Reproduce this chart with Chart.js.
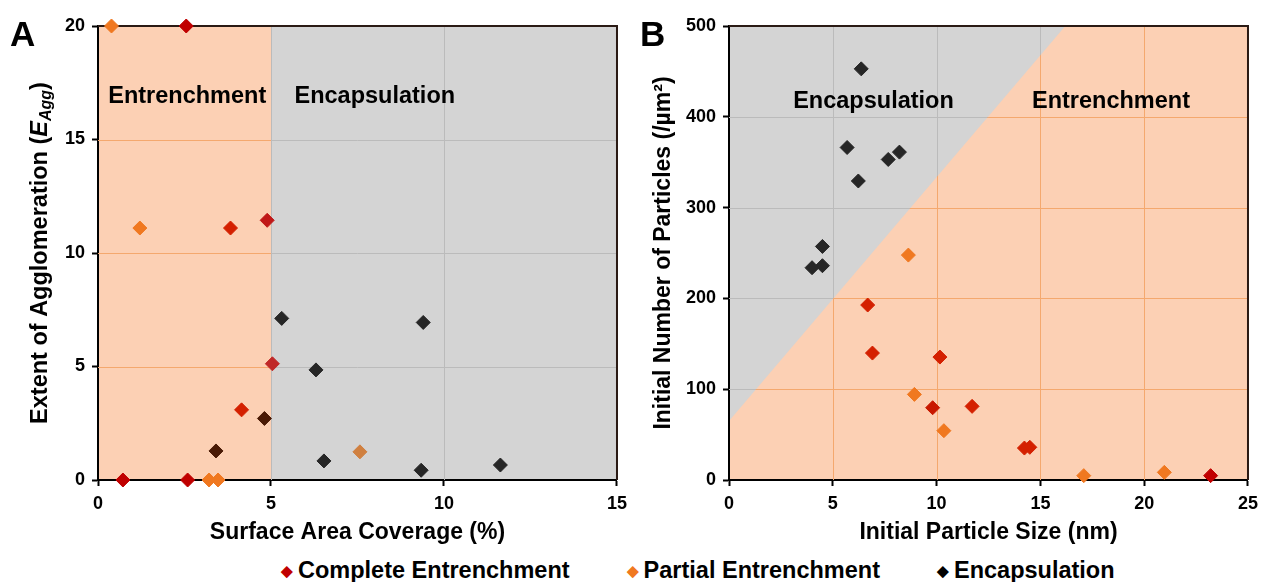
<!DOCTYPE html>
<html>
<head>
<meta charset="utf-8">
<script src="https://cdn.jsdelivr.net/npm/chart.js@4/dist/chart.umd.min.js"></script>
<style>
  body { margin: 0; background: #fff; width: 1265px; height: 582px; position: relative; overflow: hidden;
         font-family: 'Liberation Sans', Arial, sans-serif; }
  canvas { position: absolute; top: 0; }
  #chartA { left: 0; }
  #chartB { left: 634px; }
  .panel { position: absolute; top: 16px; font: bold 35px 'Liberation Sans', Arial, sans-serif; line-height: 1; }
  #legend { position: absolute; left: 281px; top: 559px; display: flex; gap: 57px;
            font: bold 23.5px 'Liberation Sans', Arial, sans-serif; line-height: 1; white-space: nowrap; }
  #legend .mk { font-size: 15px; margin-right: 5px; position: relative; top: -2px; }
</style>
</head>
<body>
<canvas id="chartA" width="634" height="550"></canvas>
<canvas id="chartB" width="631" height="550"></canvas>
<div class="panel" style="left:10px">A</div>
<div class="panel" style="left:640px">B</div>
<div id="legend">
  <span><span class="mk" style="color:#C00000">&#9670;</span>Complete Entrenchment</span>
  <span><span class="mk" style="color:#F07820">&#9670;</span>Partial Entrenchment</span>
  <span><span class="mk" style="color:#000">&#9670;</span>Encapsulation</span>
</div>
<script>
// --- panel A: surface area coverage (%) vs extent of agglomeration
const aCompleteX = [2.55, 3.83, 4.89, 5.04, 4.15, 0.72, 2.59];
const aCompleteY = [20, 11.1, 11.44, 5.12, 3.09, 0, 0];
const aPartialX = [0.39, 1.21, 3.21, 3.47, 7.57];
const aPartialY = [20, 11.1, 0, 0, 1.24];
const aEncapX = [5.31, 9.40, 6.30, 4.81, 3.41, 6.53, 9.34, 11.63];
const aEncapY = [7.12, 6.94, 4.85, 2.71, 1.28, 0.84, 0.43, 0.66];
const aBoundaryX = 5;

// --- panel B: initial particle size (nm) vs initial number of particles
const bCompleteX = [6.68, 6.91, 10.16, 9.81, 11.71, 14.23, 14.49, 23.2];
const bCompleteY = [192.7, 139.8, 135.4, 79.6, 81.1, 35.2, 36, 4.8];
const bPartialX = [8.64, 8.93, 10.35, 17.09, 20.97];
const bPartialY = [247.7, 94.3, 54.3, 4.8, 8.4];
const bEncapX = [6.37, 5.69, 8.21, 7.67, 6.23, 4.50, 4.50, 4.0];
const bEncapY = [452.8, 366.2, 361.1, 353, 329.3, 257.2, 236, 233.8];
const bBoundaryX = [0, 16.2];
const bBoundaryY = [65, 500];

const seriesNames = ["Complete Entrenchment", "Partial Entrenchment", "Encapsulation"];

// colours (points are not all the same shade in the original)
const aCompleteCol = ["#C00000", "#D42000", "#C01818", "#C02828", "#D42000", "#C00000", "#C00000"];
const aPartialCol = ["#F07820", "#F07820", "#F07820", "#F07820", "#D08040"];
const aEncapCol = ["#262626", "#262626", "#262626", "#4A1A05", "#4A1A05", "#262626", "#262626", "#262626"];
const bCompleteCol = ["#D42000", "#D42000", "#D42000", "#C81800", "#D42000", "#D42000", "#D42000", "#C00000"];
const PEACH = "#FCD0B4";
const GREY = "#D4D4D4";
const FONT = "'Liberation Sans', Arial, sans-serif";

Chart.defaults.font.family = FONT;
Chart.defaults.font.weight = "bold";
Chart.defaults.color = "#000";

function toPoints(xs, ys) {
  return xs.map((v, i) => ({ x: v, y: ys[i] }));
}

function makeSet(label, xs, ys, col) {
  return {
    label: label,
    data: toPoints(xs, ys),
    pointStyle: "rectRot",
    pointRadius: 7,
    pointHoverRadius: 7,
    backgroundColor: col,
    borderColor: col,
    borderWidth: 1,
    clip: false,
  };
}

function polyPath(ctx, poly, x, y) {
  ctx.beginPath();
  poly.forEach((p, i) => {
    const px = x.getPixelForValue(p[0]), py = y.getPixelForValue(p[1]);
    if (i === 0) ctx.moveTo(px, py); else ctx.lineTo(px, py);
  });
  ctx.closePath();
}

function gridPath(ctx, a, x, y) {
  ctx.beginPath();
  x.ticks.forEach(t => {
    if (t.value <= x.min || t.value >= x.max) return;
    const px = Math.round(x.getPixelForValue(t.value)) + 0.5;
    ctx.moveTo(px, a.top); ctx.lineTo(px, a.bottom);
  });
  y.ticks.forEach(t => {
    if (t.value <= y.min || t.value >= y.max) return;
    const py = Math.round(y.getPixelForValue(t.value)) + 0.5;
    ctx.moveTo(a.left, py); ctx.lineTo(a.right, py);
  });
}

// backgrounds, grid (grey / orange inside the peach area), frame and region labels
const regionPlugin = {
  id: "regions",
  beforeDraw(chart, args, opts) {
    const { ctx, chartArea: a, scales: { x, y } } = chart;
    ctx.save();
    ctx.fillStyle = GREY;
    ctx.fillRect(a.left, a.top, a.width, a.height);
    polyPath(ctx, opts.poly, x, y);
    ctx.fillStyle = PEACH;
    ctx.fill();
    ctx.restore();
  },
  beforeDatasetsDraw(chart, args, opts) {
    const { ctx, chartArea: a, scales: { x, y } } = chart;
    ctx.save();
    ctx.lineWidth = 1;
    gridPath(ctx, a, x, y);
    ctx.strokeStyle = "#BBBBBB";
    ctx.stroke();
    polyPath(ctx, opts.poly, x, y);
    ctx.clip();
    gridPath(ctx, a, x, y);
    ctx.strokeStyle = "#F4A86E";
    ctx.stroke();
    ctx.restore();

    // frame on top and right
    ctx.save();
    ctx.strokeStyle = "#2a1a14";
    ctx.lineWidth = 2;
    ctx.beginPath();
    ctx.moveTo(a.left, a.top); ctx.lineTo(a.right, a.top); ctx.lineTo(a.right, a.bottom);
    ctx.stroke();
    ctx.restore();

    // region labels
    ctx.save();
    ctx.font = "bold 23.5px " + FONT;
    ctx.fillStyle = "#000";
    ctx.textAlign = "center";
    ctx.textBaseline = "middle";
    opts.labels.forEach(l => {
      ctx.fillText(l.text, x.getPixelForValue(l.x), y.getPixelForValue(l.y));
    });
    ctx.restore();
  },
};

// y title of panel A, with italic E and subscript Agg
const yTitleA = {
  id: "yTitleA",
  afterDraw(chart) {
    const { ctx, chartArea: a } = chart;
    const parts = [
      { t: "Extent of Agglomeration (", f: "bold 23.5px " + FONT, dy: 0 },
      { t: "E", f: "italic bold 23.5px " + FONT, dy: 0 },
      { t: "Agg", f: "italic bold 16px " + FONT, dy: 6 },
      { t: ")", f: "bold 23.5px " + FONT, dy: 0 },
    ];
    ctx.save();
    let total = 0;
    parts.forEach(p => { ctx.font = p.f; p.w = ctx.measureText(p.t).width; total += p.w; });
    ctx.translate(41, (a.top + a.bottom) / 2);
    ctx.rotate(-Math.PI / 2);
    ctx.fillStyle = "#000";
    ctx.textBaseline = "middle";
    let cx = -total / 2;
    parts.forEach(p => {
      ctx.font = p.f;
      ctx.fillText(p.t, cx, p.dy);
      cx += p.w;
    });
    ctx.restore();
  },
};

function axisOpts(min, max, step, title, fitSize, isY, titlePad) {
  return {
    type: "linear",
    min: min,
    max: max,
    ticks: { stepSize: step, font: { size: 18, weight: "bold" }, color: "#000", padding: 7 },
    grid: { drawOnChartArea: false, tickLength: 6, tickColor: "#000", tickWidth: 2 },
    border: { color: "#000", width: 2 },
    title: title
      ? { display: true, text: title, font: { size: 23, weight: "bold" }, color: "#000", padding: titlePad }
      : { display: false },
    afterFit(scale) {
      if (isY) scale.width = fitSize; else scale.height = fitSize;
    },
  };
}

new Chart(document.getElementById("chartA"), {
  type: "scatter",
  data: {
    datasets: [
      makeSet(seriesNames[0], aCompleteX, aCompleteY, aCompleteCol),
      makeSet(seriesNames[1], aPartialX, aPartialY, aPartialCol),
      makeSet(seriesNames[2], aEncapX, aEncapY, aEncapCol),
    ],
  },
  options: {
    responsive: false,
    animation: false,
    layout: { padding: { top: 26, right: 12, left: 0, bottom: 0 } },
    scales: {
      x: axisOpts(0, 15, 5, "Surface Area Coverage (%)", 70, false, { top: 0, bottom: 4 }),
      y: axisOpts(0, 20, 5, null, 98, true),
    },
    plugins: {
      legend: { display: false },
      tooltip: { enabled: false },
      regions: {
        poly: [[0, 0], [aBoundaryX, 0], [aBoundaryX, 20], [0, 20]],
        labels: [{ text: "Entrenchment", x: 2.58, y: 16.9 }, { text: "Encapsulation", x: 8.0, y: 16.9 }],
      },
    },
  },
  plugins: [regionPlugin, yTitleA],
});

new Chart(document.getElementById("chartB"), {
  type: "scatter",
  data: {
    datasets: [
      makeSet(seriesNames[0], bCompleteX, bCompleteY, bCompleteCol),
      makeSet(seriesNames[1], bPartialX, bPartialY, "#F07820"),
      makeSet(seriesNames[2], bEncapX, bEncapY, "#262626"),
    ],
  },
  options: {
    responsive: false,
    animation: false,
    layout: { padding: { top: 26, right: 15, left: 0, bottom: 0 } },
    scales: {
      x: axisOpts(0, 25, 5, "Initial Particle Size (nm)", 70, false, { top: 0, bottom: 4 }),
      y: axisOpts(0, 500, 100, "Initial Number of Particles (/\u00B5m\u00B2)", 95, true, { top: 16, bottom: 0 }),
    },
    plugins: {
      legend: { display: false },
      tooltip: { enabled: false },
      regions: {
        poly: [[0, 0], [25, 0], [25, 500], [bBoundaryX[1], bBoundaryY[1]], [bBoundaryX[0], bBoundaryY[0]]],
        labels: [{ text: "Encapsulation", x: 6.96, y: 417 }, { text: "Entrenchment", x: 18.4, y: 417 }],
      },
    },
  },
  plugins: [regionPlugin],
});
</script>
</body>
</html>
